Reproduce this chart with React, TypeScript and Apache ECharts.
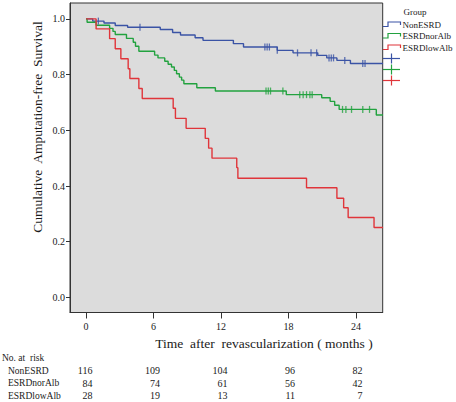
import React, { useEffect, useRef } from "react";
import * as echarts from "echarts";

// ---- data ----
const tickMonths = [0, 6, 12, 18, 24];
const yTicks = [0, 0.2, 0.4, 0.6, 0.8, 1.0];
const groupNames = ["NonESRD", "ESRDnorAlb", "ESRDlowAlb"];
const followUpEnd = 26.4;

const nonEsrdTimes = [0, 0.6, 1.6, 2.6, 3.7, 6.6, 7.7, 8.4, 9.7, 10.4, 13.1, 14.0, 17.0, 18.4, 20.6, 21.4, 22.3, 23.5];
const nonEsrdSurv = [1.0, 0.992, 0.985, 0.976, 0.970, 0.962, 0.951, 0.942, 0.932, 0.923, 0.911, 0.899, 0.887, 0.878, 0.869, 0.860, 0.851, 0.840];
const nonEsrdCensored = [1.1, 4.8, 15.9, 16.1, 16.3, 17.0, 18.8, 20.0, 20.5, 21.6, 21.8, 22.0, 23.0, 24.6, 24.8];

const esrdNorTimes = [0, 0.1, 0.9, 2.1, 2.4, 2.6, 3.6, 4.2, 4.4, 4.7, 6.1, 6.4, 7.0, 7.3, 7.6, 7.85, 8.05, 8.3, 8.5, 8.7, 9.85, 11.5, 17.8, 20.95, 21.7, 22.1, 22.5, 25.8];
const esrdNorSurv = [1.0, 0.988, 0.977, 0.966, 0.955, 0.944, 0.930, 0.916, 0.902, 0.884, 0.870, 0.860, 0.848, 0.837, 0.827, 0.815, 0.803, 0.791, 0.780, 0.767, 0.753, 0.741, 0.728, 0.717, 0.704, 0.690, 0.675, 0.655];
const esrdNorCensored = [16.0, 16.2, 16.4, 17.5, 19.0, 19.3, 19.6, 19.9, 20.1, 22.8, 23.1, 23.6, 24.6, 25.2];

const esrdLowTimes = [0, 0.9, 2.1, 2.6, 3.1, 3.75, 3.9, 4.7, 5.0, 7.75, 7.95, 8.9, 10.6, 10.9, 11.2, 13.4, 13.5, 19.6, 22.3, 22.9, 23.3, 25.6];
const esrdLowSurv = [1.0, 0.964, 0.929, 0.893, 0.857, 0.821, 0.786, 0.750, 0.714, 0.679, 0.643, 0.607, 0.571, 0.536, 0.500, 0.466, 0.428, 0.394, 0.356, 0.322, 0.287, 0.251];
const esrdLowCensored: number[] = [];

const atRiskNonESRD = [116, 109, 104, 96, 82];
const atRiskESRDnorAlb = [84, 74, 61, 56, 42];
const atRiskESRDlowAlb = [28, 19, 13, 11, 7];

// ---- styling ----
const colors = ["#3a53a5", "#22a23f", "#e0353a"];
const FONT = '"Liberation Serif", "Times New Roman", serif';
const TXT = "#1a1a1a";

function stepData(times: number[], surv: number[]) {
  const d = times.map((t, i) => [t, surv[i]]);
  d.push([followUpEnd, surv[surv.length - 1]]);
  return d;
}
function survAt(times: number[], surv: number[], t: number) {
  let s = surv[0];
  for (let i = 0; i < times.length; i++) if (times[i] <= t) s = surv[i];
  return s;
}

const groupsData = [
  { times: nonEsrdTimes, surv: nonEsrdSurv, cens: nonEsrdCensored },
  { times: esrdNorTimes, surv: esrdNorSurv, cens: esrdNorCensored },
  { times: esrdLowTimes, surv: esrdLowSurv, cens: esrdLowCensored },
];
const atRiskRows = [atRiskNonESRD, atRiskESRDnorAlb, atRiskESRDlowAlb];

export default function App() {
  const ref = useRef<HTMLDivElement>(null);
  useEffect(() => {
    if (!ref.current) return;
    const chart = echarts.init(ref.current, undefined, { renderer: "svg" });
    const series: any[] = [];
    groupsData.forEach((g, i) => {
      series.push({
        type: "line",
        name: groupNames[i],
        step: "end",
        showSymbol: false,
        data: stepData(g.times, g.surv),
        lineStyle: { color: colors[i], width: 1.4 },
        itemStyle: { color: colors[i] },
        z: 3,
      });
      series.push({
        type: "scatter",
        name: groupNames[i] + " censored",
        symbol: "rect",
        symbolSize: [1.3, 7],
        data: g.cens.map((t) => [t, survAt(g.times, g.surv, t)]),
        itemStyle: { color: colors[i] },
        z: 4,
      });
    });

    chart.setOption({
      animation: false,
      grid: {
        left: 70,
        right: 73.3,
        top: 3,
        bottom: 89.5,
        show: true,
        backgroundColor: "#dcdcdc",
        borderColor: "#333",
        borderWidth: 1,
      },
      xAxis: {
        type: "value",
        min: -1.42,
        max: 26.37,
        axisLine: { show: true, onZero: false, lineStyle: { color: "#333", width: 1 } },
        axisTick: { show: true, customValues: tickMonths, length: 6, lineStyle: { color: "#333" } },
        axisLabel: {
          customValues: tickMonths,
          margin: 9,
          fontSize: 10,
          fontFamily: FONT,
          color: TXT,
        },
        splitLine: { show: false },
      },
      yAxis: {
        type: "value",
        min: -0.054,
        max: 1.057,
        axisLine: { show: true, onZero: false, lineStyle: { color: "#333", width: 1 } },
        axisTick: { show: true, customValues: yTicks, length: 4, lineStyle: { color: "#333" } },
        axisLabel: {
          customValues: yTicks,
          margin: 5,
          fontSize: 10,
          fontFamily: FONT,
          color: TXT,
          formatter: (v: number) => v.toFixed(1),
        },
        splitLine: { show: false },
      },
      series,
    });

    const xs = tickMonths.map((m) => chart.convertToPixel({ xAxisIndex: 0 }, m) as number);
    const graphic: any[] = [];
    // axis titles
    graphic.push({
      type: "text",
      x: 37,
      y: 127,
      rotation: Math.PI / 2,
      style: {
        text: "Cumulative  Amputation-free  Survival",
        fontSize: 13.5,
        fontFamily: FONT,
        fill: TXT,
        align: "center",
        verticalAlign: "middle",
      },
    });
    graphic.push({
      type: "text",
      x: 264,
      y: 343,
      style: {
        text: "Time  after  revascularization ( months )",
        fontSize: 13.5,
        fontFamily: FONT,
        fill: TXT,
        align: "center",
        verticalAlign: "middle",
      },
    });
    // legend
    graphic.push({
      type: "text",
      x: 415,
      y: 12,
      style: { text: "Group", fontSize: 9, fontFamily: FONT, fill: TXT, align: "center", verticalAlign: "middle" },
    });
    const legendRows = [24.5, 36, 47.5];
    legendRows.forEach((y, i) => {
      graphic.push({
        type: "polyline",
        shape: { points: [[383, y + 2], [388, y + 2], [388, y - 2.5], [400.5, y - 2.5], [400.5, y + 0.5]] },
        style: { stroke: colors[i], lineWidth: 1.2, fill: "none" },
      });
      graphic.push({
        type: "text",
        x: 402.5,
        y: y,
        style: { text: groupNames[i], fontSize: 9, fontFamily: FONT, fill: TXT, align: "left", verticalAlign: "middle" },
      });
    });
    const crossRows = [58.5, 69.5, 80.5];
    crossRows.forEach((y, i) => {
      graphic.push({
        type: "line",
        shape: { x1: 383, y1: y, x2: 400, y2: y },
        style: { stroke: colors[i], lineWidth: 1.2 },
      });
      graphic.push({
        type: "line",
        shape: { x1: 391.5, y1: y - 5, x2: 391.5, y2: y + 5 },
        style: { stroke: colors[i], lineWidth: 1.2 },
      });
    });
    // number at risk table
    graphic.push({
      type: "text",
      x: 2,
      y: 357.7,
      style: { text: "No. at  risk", fontSize: 9.5, fontFamily: FONT, fill: TXT, align: "left", verticalAlign: "middle" },
    });
    const rowYs = [370.7, 383.3, 395.7];
    rowYs.forEach((y, r) => {
      graphic.push({
        type: "text",
        x: 8,
        y,
        style: { text: groupNames[r], fontSize: 9.5, fontFamily: FONT, fill: TXT, align: "left", verticalAlign: "middle" },
      });
      atRiskRows[r].forEach((n, c) => {
        graphic.push({
          type: "text",
          x: xs[c] + 6.5,
          y,
          style: { text: String(n), fontSize: 10, fontFamily: FONT, fill: TXT, align: "right", verticalAlign: "middle" },
        });
      });
    });
    chart.setOption({ graphic });

    return () => chart.dispose();
  }, []);
  return (
    <div
      ref={ref}
      style={{ position: "fixed", left: 0, top: 0, width: 456, height: 402, background: "#fff" }}
    />
  );
}
